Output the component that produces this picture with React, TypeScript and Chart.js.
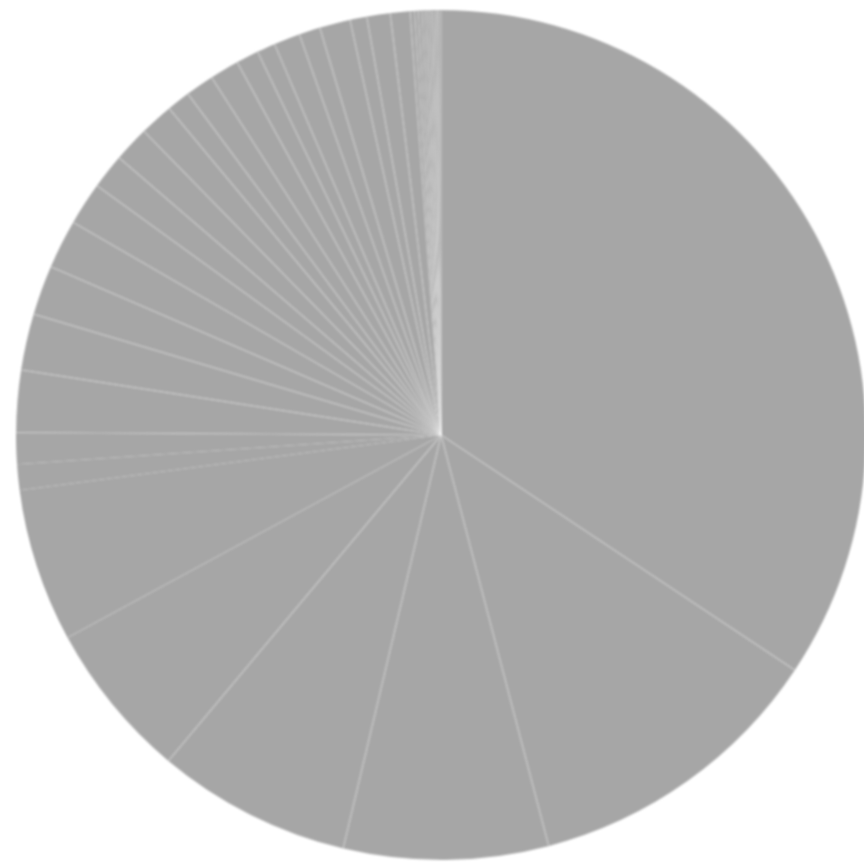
import React, { useEffect, useRef } from "react";
import { Chart, registerables } from "chart.js";

Chart.register(...registerables);

// Slice sizes (in degrees of the full circle, read clockwise from 12 o'clock)
const sliceValues: number[] = [
  123.6, 41.7, 28.0, 26.6, 21.6, 21.0, 3.5, 4.3,
  8.5, 7.7, 6.8, 6.7, 5.9, 4.8, 4.9,
  4.6, 3.2, 3.9, 4.0, 3.1, 2.5, 3.6, 2.9, 4.2, 2.3, 3.2, 2.7,
  0.6, 0.5, 0.5, 0.45, 0.4, 0.4, 0.35, 0.35, 0.3, 0.3,
];

const categories: string[] = sliceValues.map((_, i) => `Item ${i + 1}`);

// Border strength per slice (some separators are barely visible in the original)
const borderAlphas: number[] = sliceValues.map((_, i) =>
  i === 5 || i === 6 || i === 7 ? 0.03 : 0.14
);

const sliceColor = "#a6a6a6";

export default function App() {
  const ref = useRef<HTMLCanvasElement | null>(null);

  useEffect(() => {
    if (!ref.current) return;
    const chart = new Chart(ref.current, {
      type: "pie",
      data: {
        labels: categories,
        datasets: [
          {
            data: sliceValues,
            backgroundColor: sliceColor,
            borderColor: borderAlphas.map((a) => `rgba(255,255,255,${a})`),
            borderWidth: 2,
          },
        ],
      },
      options: {
        animation: false,
        responsive: false,
        radius: 425,
        layout: { padding: 0 },
        plugins: {
          legend: { display: false },
          tooltip: { enabled: false },
        },
      },
    });
    return () => chart.destroy();
  }, []);

  return (
    <div
      style={{
        position: "fixed",
        left: 0,
        top: 0,
        width: 864,
        height: 864,
        overflow: "hidden",
        background: "#ffffff",
      }}
    >
      <canvas
        ref={ref}
        width={900}
        height={900}
        style={{
          position: "absolute",
          left: -9,
          top: -15,
          width: 900,
          height: 900,
          filter: "blur(1.3px)",
        }}
      />
    </div>
  );
}
